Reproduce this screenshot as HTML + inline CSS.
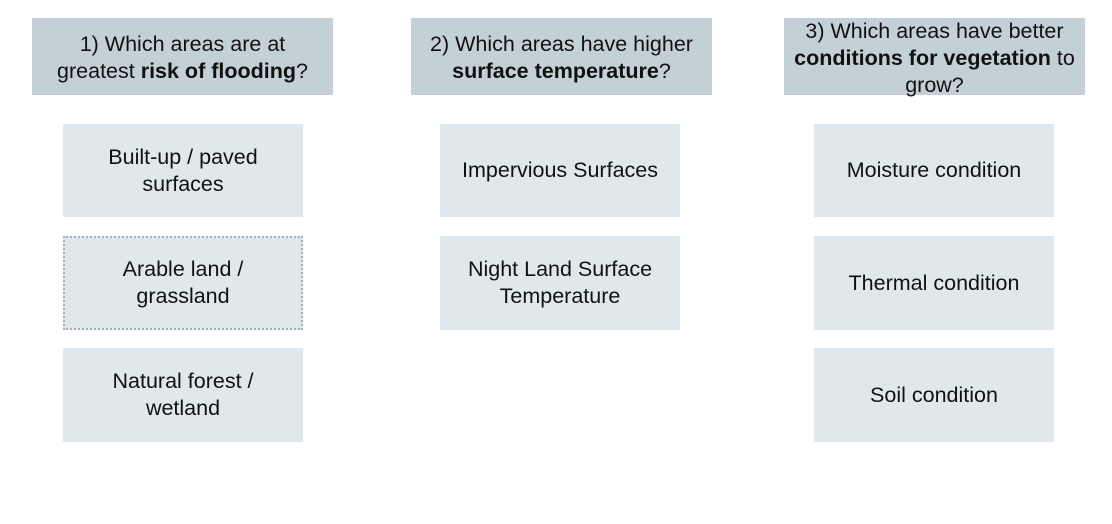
<!DOCTYPE html>
<html><head><meta charset="utf-8"><style>
body{margin:0;width:1112px;height:524px;background:#fff;position:relative;overflow:hidden;font-family:"Liberation Sans",sans-serif;color:#111}
.b{position:absolute;display:flex;align-items:center;justify-content:center;text-align:center;box-sizing:border-box;font-size:21.5px;line-height:27px}
.h{background:#c3d1d7;height:77px;width:301px;top:18px}
.i{background:#dfe8ea;width:240px;height:93px}
.d{border:2px dotted #a9b0b3}
</style></head><body>
<div class="b h" style="left:32px;padding-top:2px"><span>1) Which areas are at<br>greatest <b>risk of flooding</b>?</span></div>
<div class="b h" style="left:411px;padding-top:2px"><span>2) Which areas have higher<br><b>surface temperature</b>?</span></div>
<div class="b h" style="left:784px;line-height:27px;align-items:flex-start;padding-top:0px"><span>3) Which areas have better<br><b>conditions for vegetation</b> to<br>grow?</span></div>
<div class="b i" style="left:63px;top:124px"><span>Built-up / paved<br>surfaces</span></div>
<div class="b i d" style="left:63px;top:236px;height:94px"><span>Arable land /<br>grassland</span></div>
<div class="b i" style="left:63px;top:348px;height:94px"><span>Natural forest /<br>wetland</span></div>
<div class="b i" style="left:440px;top:124px"><span>Impervious Surfaces</span></div>
<div class="b i" style="left:440px;top:236px;height:94px"><span>Night Land Surface<br>Temperature</span></div>
<div class="b i" style="left:814px;top:124px"><span>Moisture condition</span></div>
<div class="b i" style="left:814px;top:236px;height:94px"><span>Thermal condition</span></div>
<div class="b i" style="left:814px;top:348px;height:94px"><span>Soil condition</span></div>
</body></html>
